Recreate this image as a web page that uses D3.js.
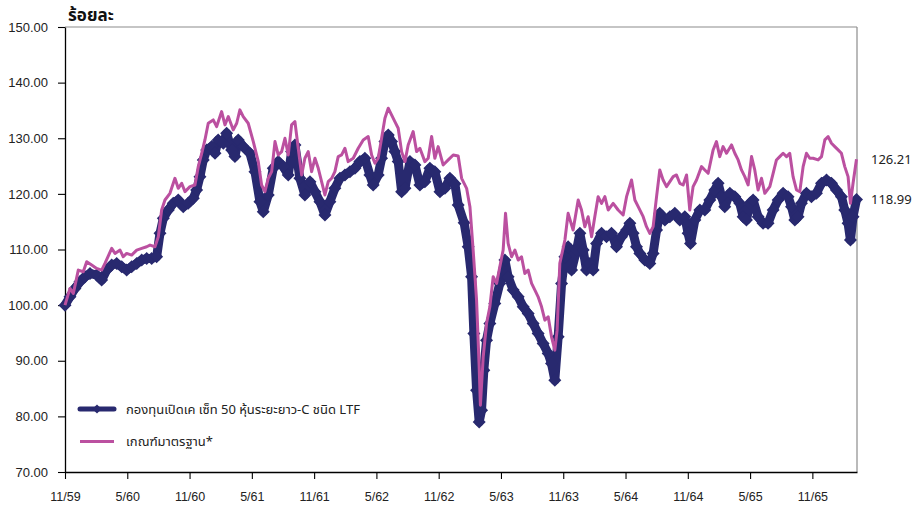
<!DOCTYPE html>
<html>
<head>
<meta charset="utf-8">
<script src="https://cdn.jsdelivr.net/npm/d3@7"></script>
<style>
  body { margin: 0; background: #fff; }
  svg { display: block; font-family: "Noto Sans Thai", Tahoma, "Noto Sans", "Liberation Sans", sans-serif; }
</style>
</head>
<body>
<svg id="chart" width="916" height="509"></svg>
<script>
// months counted from 11/59, value in percent
const fund = [
  [0,100.0],[0.48,101.5],[0.96,103.0],[1.44,104.2],[1.93,105.1],[2.41,105.7],[3.05,105.4],[3.53,104.5],
  [4.02,106.3],[4.50,107.2],[4.98,107.5],[5.46,106.9],[5.94,106.3],[6.42,106.9],[6.91,107.5],[7.39,108.1],
  [7.87,108.4],[8.35,108.4],[8.83,108.7],[9.15,112.9],[9.47,115.6],[9.95,117.1],[10.43,118.3],[10.91,118.9],
  [11.39,117.7],[11.87,118.3],[12.36,119.2],[12.68,120.7],[13.00,123.1],[13.32,126.1],[13.65,127.9],[14.13,128.5],
  [14.45,127.3],[14.76,129.7],[15.25,129.1],[15.57,130.9],[16.05,127.9],[16.37,126.7],[16.69,129.7],[17.17,128.5],
  [17.82,127.3],[18.30,124.0],[18.78,118.6],[19.10,116.8],[19.58,119.8],[20.06,124.6],[20.54,125.8],[21.02,124.9],
  [21.51,123.4],[21.83,127.6],[22.15,128.8],[22.63,122.8],[23.11,119.8],[23.60,122.2],[24.08,120.4],[24.56,118.6],
  [25.04,116.2],[25.52,118.6],[26.00,121.0],[26.49,122.8],[26.97,123.4],[27.45,124.0],[27.93,124.6],[28.41,125.8],
  [28.89,126.4],[29.37,123.4],[29.69,121.6],[30.17,123.4],[30.50,126.4],[30.82,129.4],[31.14,130.6],[31.46,129.4],
  [31.78,127.6],[32.10,125.8],[32.43,120.4],[32.75,121.0],[33.23,125.8],[33.71,125.2],[34.19,121.6],[34.67,122.2],
  [35.15,124.6],[35.63,124.0],[36.12,120.4],[36.60,121.0],[37.08,122.8],[37.56,121.8],[37.88,118.0],[38.45,114.8],
  [38.84,110.5],[39.17,105.1],[39.39,94.9],[39.65,84.7],[39.90,79.0],[40.13,81.1],[40.35,88.3],[40.61,93.7],
  [40.93,96.7],[41.41,100.3],[41.89,103.9],[42.38,108.1],[42.69,105.1],[43.18,102.7],[43.66,101.5],[44.14,99.7],
  [44.62,98.5],[45.10,96.7],[45.58,94.9],[46.06,93.1],[46.55,91.3],[46.87,89.5],[47.19,86.5],[47.51,94.3],
  [47.84,103.9],[48.16,108.7],[48.47,110.5],[48.80,106.3],[49.28,109.9],[49.60,112.9],[49.92,109.9],[50.24,106.3],
  [50.56,107.5],[50.88,106.3],[51.21,111.1],[51.69,112.9],[52.17,112.3],[52.65,112.9],[53.13,110.5],[53.61,112.3],
  [54.10,113.5],[54.42,114.7],[54.73,112.9],[55.06,110.5],[55.38,109.3],[55.86,108.1],[56.34,107.5],[56.66,109.3],
  [56.99,113.5],[57.30,116.5],[57.79,115.3],[58.27,115.9],[58.75,116.5],[59.23,115.3],[59.71,115.9],[60.03,112.9],
  [60.26,111.1],[60.68,115.3],[61.16,117.1],[61.64,117.1],[62.12,118.9],[62.60,120.7],[62.92,121.9],[63.25,119.5],
  [63.56,117.7],[64.05,120.1],[64.53,119.5],[65.01,118.3],[65.33,115.9],[65.65,115.3],[65.97,118.3],[66.29,118.9],
  [66.77,115.9],[67.25,114.7],[67.73,114.7],[68.22,117.1],[68.70,118.9],[69.18,120.1],[69.66,119.5],[69.99,117.7],
  [70.31,115.3],[70.62,115.9],[70.95,118.3],[71.43,120.1],[71.91,119.5],[72.39,120.1],[72.88,121.9],[73.36,122.5],
  [73.84,121.9],[74.32,120.7],[74.80,119.5],[75.12,117.1],[75.44,114.7],[75.67,111.7],[75.92,115.9],[76.25,118.99]
];

const benchmark = [
  [0,100.0],[0.48,103.0],[0.80,102.1],[1.28,106.3],[1.76,106.0],[2.09,107.8],[2.57,107.2],[3.05,106.6],
  [3.53,106.3],[3.85,107.5],[4.50,110.2],[4.82,109.3],[5.30,109.9],[5.61,108.7],[5.94,109.3],[6.42,109.0],
  [6.91,109.9],[7.39,110.2],[7.87,110.5],[8.19,110.8],[8.67,110.5],[8.99,112.3],[9.31,117.1],[9.63,118.9],
  [10.11,120.1],[10.59,122.8],[10.91,121.0],[11.24,121.9],[11.56,120.4],[12.04,121.3],[12.52,121.6],[12.84,124.9],
  [13.17,127.3],[13.48,129.7],[13.80,132.7],[14.28,133.3],[14.61,132.1],[15.09,134.8],[15.41,132.4],[15.73,133.9],
  [16.21,131.5],[16.54,132.7],[16.85,135.1],[17.17,133.9],[17.65,132.7],[18.14,129.4],[18.62,125.8],[18.94,121.6],
  [19.26,120.4],[19.58,122.8],[19.91,124.0],[20.23,129.4],[20.54,127.0],[20.87,127.6],[21.19,130.0],[21.51,127.0],
  [21.83,132.4],[22.15,133.0],[22.47,128.2],[22.80,123.4],[23.11,126.4],[23.43,127.6],[23.76,124.0],[24.08,126.4],
  [24.40,124.6],[24.72,122.2],[25.04,119.8],[25.36,122.2],[25.69,122.8],[26.00,124.0],[26.32,126.7],[26.65,127.0],
  [26.97,128.2],[27.28,125.8],[27.77,126.4],[28.25,128.2],[28.73,129.7],[29.21,130.3],[29.54,127.0],[29.86,125.5],
  [30.17,126.4],[30.50,130.0],[30.82,133.6],[31.14,135.4],[31.46,134.2],[31.78,133.0],[32.10,131.8],[32.43,127.6],
  [32.75,125.8],[33.06,128.8],[33.54,131.2],[33.87,127.6],[34.19,128.2],[34.67,125.8],[34.99,126.4],[35.32,130.3],
  [35.63,126.4],[35.95,128.5],[36.43,125.2],[36.92,126.1],[37.40,127.0],[37.88,126.8],[38.21,122.8],[38.69,121.0],
  [39.01,117.7],[39.32,109.9],[39.65,100.9],[39.90,88.9],[40.02,82.0],[40.29,90.7],[40.61,96.7],[40.93,99.7],
  [41.25,105.1],[41.58,103.9],[41.89,106.9],[42.21,109.9],[42.44,116.5],[42.69,111.1],[43.02,108.7],[43.34,109.9],
  [43.66,108.1],[43.98,108.7],[44.30,105.7],[44.62,106.3],[44.95,103.9],[45.27,102.7],[45.58,101.5],[45.91,99.7],
  [46.23,97.3],[46.55,97.9],[46.87,94.3],[47.19,91.9],[47.41,95.5],[47.67,107.5],[48.16,111.7],[48.47,116.5],
  [48.95,113.5],[49.44,118.9],[49.76,117.1],[50.08,114.1],[50.40,115.9],[50.73,112.3],[51.04,115.9],[51.36,119.5],
  [51.69,118.3],[52.01,119.5],[52.33,117.1],[52.81,118.3],[53.29,117.1],[53.77,116.2],[54.10,119.5],[54.58,122.5],
  [54.90,118.9],[55.22,117.7],[55.70,115.9],[56.02,114.1],[56.34,112.9],[56.66,114.1],[56.99,119.5],[57.30,124.3],
  [57.62,122.5],[57.95,121.3],[58.27,122.2],[58.59,123.1],[58.91,123.4],[59.23,121.9],[59.55,121.6],[59.88,123.4],
  [60.19,117.1],[60.51,121.3],[60.84,122.5],[61.32,124.9],[61.64,124.3],[61.96,123.7],[62.44,127.9],[62.76,129.4],
  [63.08,126.7],[63.40,128.5],[63.73,127.3],[64.21,128.8],[64.53,127.3],[64.85,126.1],[65.17,124.3],[65.49,123.1],
  [65.81,121.6],[66.14,126.7],[66.45,124.3],[66.77,120.7],[67.10,122.8],[67.42,120.1],[67.90,121.3],[68.22,123.7],
  [68.54,126.1],[68.86,126.7],[69.18,127.3],[69.51,126.7],[69.82,127.3],[70.14,123.1],[70.47,120.7],[70.79,120.4],
  [71.11,124.9],[71.43,127.3],[71.75,126.4],[72.07,126.4],[72.55,126.1],[72.88,126.7],[73.20,129.7],[73.52,130.3],
  [73.84,129.1],[74.16,128.5],[74.48,127.9],[74.80,127.3],[75.12,124.9],[75.44,123.1],[75.67,118.3],[75.92,121.9],
  [76.25,126.21]
];

const tickMonths = [0, 6, 12, 18, 24, 30, 36, 42, 48, 54, 60, 66, 72];
const tickLabels = ["11/59","5/60","11/60","5/61","11/61","5/62","11/62","5/63","11/63","5/64","11/64","5/65","11/65"];
const yTicks = [70, 80, 90, 100, 110, 120, 130, 140, 150];

const seriesNames = ["กองทุนเปิดเค เซ็ท 50 หุ้นระยะยาว-C ชนิด LTF", "เกณฑ์มาตรฐาน*"];
const lastLabels = ["118.99", "126.21"];

const fundColor = "#28296f";
const benchColor = "#bb50a0";

const margin = { top: 27, right: 59, bottom: 37, left: 65 };
const W = 916, H = 509;

const svg = d3.select("#chart");

const x = d3.scaleLinear().domain([0, 76.3]).range([margin.left, W - margin.right]);
const y = d3.scaleLinear().domain([70, 150]).range([H - margin.bottom, margin.top]);

// frame: grey top / right
svg.append("line")
  .attr("x1", x.range()[0]).attr("x2", x.range()[1])
  .attr("y1", y(150)).attr("y2", y(150))
  .attr("stroke", "#8c8c8c").attr("stroke-width", 1.2);
svg.append("line")
  .attr("x1", x.range()[1]).attr("x2", x.range()[1])
  .attr("y1", y(150)).attr("y2", y(70))
  .attr("stroke", "#8c8c8c").attr("stroke-width", 1.2);

// y axis
const yAxis = svg.append("g")
  .attr("transform", `translate(${margin.left},0)`)
  .call(d3.axisLeft(y).tickValues(yTicks).tickFormat(d3.format(".2f")).tickSize(7).tickSizeOuter(0).tickPadding(10));
yAxis.selectAll("text").attr("font-size", 13).attr("fill", "#222");

// x axis
const xAxis = svg.append("g")
  .attr("transform", `translate(0,${y(70)})`)
  .call(d3.axisBottom(x).tickValues(tickMonths).tickFormat((d, i) => tickLabels[i]).tickSize(7).tickSizeOuter(0).tickPadding(13));
xAxis.selectAll("text").attr("font-size", 12.5).attr("fill", "#222");
svg.selectAll(".domain").attr("stroke", "#000").attr("stroke-width", 1.3);
svg.selectAll(".tick line").attr("stroke", "#000").attr("stroke-width", 1.1);

const line = d3.line().x(d => x(d[0])).y(d => y(d[1]));
const diamond = "M0,-4.6L4.6,0L0,4.6L-4.6,0Z";
const bigDiamond = "M0,-6.5L6.5,0L0,6.5L-6.5,0Z";

// fund: thick navy line with diamond markers
svg.append("path").datum(fund)
  .attr("d", line)
  .attr("fill", "none")
  .attr("stroke", fundColor)
  .attr("stroke-width", 9)
  .attr("stroke-linejoin", "round");
svg.append("g").selectAll("path")
  .data(fund)
  .join("path")
  .attr("d", bigDiamond)
  .attr("transform", d => `translate(${x(d[0])},${y(d[1])})`)
  .attr("fill", fundColor);

// benchmark on top
svg.append("path").datum(benchmark)
  .attr("d", line)
  .attr("fill", "none")
  .attr("stroke", benchColor)
  .attr("stroke-width", 3)
  .attr("stroke-linejoin", "round");

// end-value labels
const lastF = fund[fund.length - 1], lastB = benchmark[benchmark.length - 1];
svg.append("text").attr("x", 871).attr("y", y(lastF[1]) + 1)
  .attr("dominant-baseline", "middle").attr("font-size", 13).attr("fill", "#222").text(lastLabels[0]);
svg.append("text").attr("x", 871).attr("y", y(lastB[1]) + 1)
  .attr("dominant-baseline", "middle").attr("font-size", 13).attr("fill", "#222").text(lastLabels[1]);

// unit title
svg.append("text").attr("x", 68).attr("y", 21)
  .attr("font-size", 17).attr("font-weight", "bold").attr("fill", "#111").text("ร้อยละ");

// legend
const lg = svg.append("g");
lg.append("line").attr("x1", 80).attr("x2", 114).attr("y1", 409).attr("y2", 409)
  .attr("stroke", fundColor).attr("stroke-width", 5).attr("stroke-linecap", "round");
lg.append("path").attr("d", diamond).attr("transform", "translate(97,409)").attr("fill", fundColor);
lg.append("text").attr("x", 126).attr("y", 410).attr("dominant-baseline", "middle")
  .attr("font-size", 13).attr("fill", "#222").text(seriesNames[0]);
lg.append("line").attr("x1", 80).attr("x2", 114).attr("y1", 441.5).attr("y2", 441.5)
  .attr("stroke", benchColor).attr("stroke-width", 2.8);
lg.append("text").attr("x", 126).attr("y", 442).attr("dominant-baseline", "middle")
  .attr("font-size", 13).attr("fill", "#222").text(seriesNames[1]);
</script>
</body>
</html>
